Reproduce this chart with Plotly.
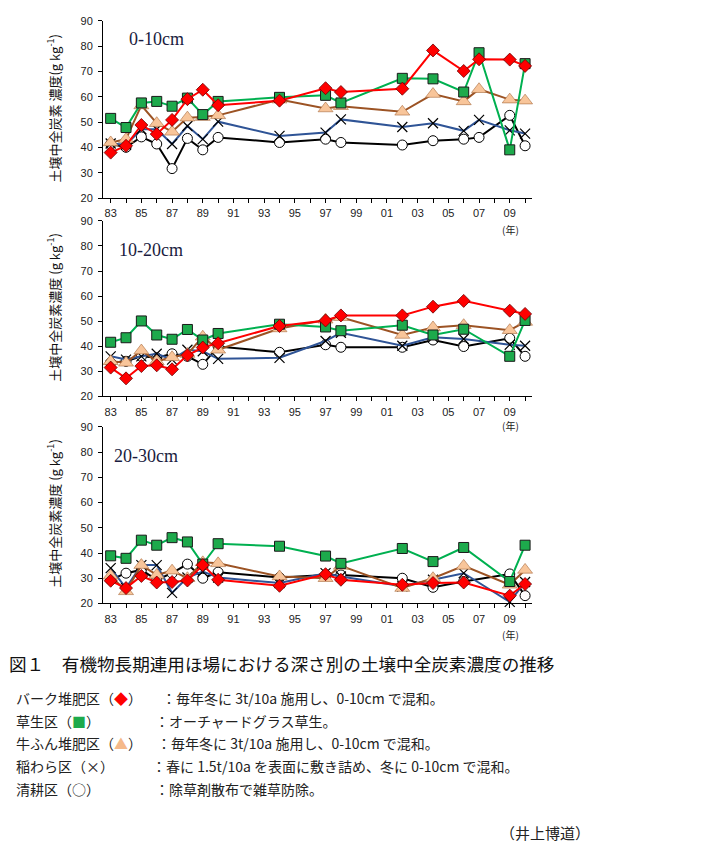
import plotly.graph_objects as go

W, H = 702, 850

# ---------------- data ----------------
years_a = [1983, 1984, 1985, 1986, 1987, 1988, 1989, 1990, 1994, 1997, 1998, 2002, 2004, 2006, 2007, 2009, 2010]
years_b = [1983, 1984, 1985, 1986, 1987, 1988, 1989, 1990, 1994, 1997, 1998, 2002, 2004, 2006, 2009, 2010]

tick_years = [1983, 1985, 1987, 1989, 1991, 1993, 1995, 1997, 1999, 2001, 2003, 2005, 2007, 2009]
tick_labels = ["83", "85", "87", "89", "91", "93", "95", "97", "99", "01", "03", "05", "07", "09"]

# 0-10cm
bark_0_10 = [38, 40.7, 48.9, 45.3, 50.9, 59.1, 62.8, 56.7, 58.5, 63.4, 61.9, 63.2, 78.3, 70.2, 74.8, 74.7, 72.2]
grass_0_10 = [51.5, 47.9, 57.6, 58.2, 56.3, 59.5, 53, 58.2, 59.8, 60.6, 57.6, 67.3, 67.1, 61.9, 77.4, 39.1, 73.1]
cow_0_10 = [42, 43.3, 56.6, 49.6, 46.2, 51.8, 52, 52.7, 58.9, 55.4, 56.3, 54.1, 61.1, 58.2, 63, 58.9, 58.5]
straw_0_10 = [41.6, 41.1, 47.2, 47.2, 41.4, 48.5, 43.3, 50.2, 44.6, 45.9, 51.1, 48.1, 49.6, 46.6, 50.9, 46.8, 45.5]
clean_0_10 = [41.4, 40.1, 44.2, 41.4, 31.7, 43.6, 39.1, 44, 42, 43.3, 42, 41, 42.7, 43.3, 44, 52.7, 40.7]

# 10-20cm
bark_10_20 = [31.5, 27.2, 32.1, 32.4, 30.8, 36.4, 39.5, 41.2, 48.1, 50.3, 52.3, 52.3, 55.8, 58.1, 54.2, 52.9]
grass_10_20 = [41.6, 43.4, 50.1, 44.5, 42.8, 46.7, 42.5, 45.1, 48.8, 47.7, 46.2, 48.4, 44.5, 46.8, 36, 50.3]
cow_10_20 = [34, 33.4, 38.3, 34, 35.6, 36.9, 43.8, 38.6, 47.1, 50.6, 51.6, 44.5, 47.5, 48.4, 46.4, 49.7]
straw_10_20 = [36, 34.7, 36, 37, 34.7, 38.6, 38, 35, 35.4, 42.1, 45.4, 40.2, 43.6, 42.9, 40.6, 40.2]
clean_10_20 = [33.4, 34, 36, 35.4, 37, 36, 32.8, 39.9, 37.6, 40.6, 39.6, 39.6, 42.5, 39.9, 43.2, 36]

# 20-30cm
bark_20_30 = [29, 26.1, 30.9, 28.3, 28.5, 29.1, 35.2, 29.4, 27, 31.6, 29.4, 27.4, 28.1, 28.3, 23.1, 27.7]
grass_20_30 = [38.9, 37.9, 45.1, 43.1, 46.1, 44.4, 35.6, 43.7, 42.7, 38.8, 35.9, 41.8, 36.6, 42.2, 28.7, 43.1]
cow_20_30 = [31, 24.8, 35.2, 31.3, 33, 30, 36.3, 35.9, 30.7, 30, 34.9, 26.1, 30, 34.9, 27.4, 33.3]
straw_20_30 = [34, 26.1, 35.2, 35.2, 24.2, 30.3, 32.6, 30.3, 28.1, 32, 30.7, 26.8, 29.4, 32, 20.6, 28.5]
clean_20_30 = [29.4, 32, 33.3, 29.4, 32, 35.6, 30, 32.4, 30.3, 31.3, 31.3, 30, 26.4, 28.7, 31.7, 23.1]

depth_labels = ["0-10cm", "10-20cm", "20-30cm"]
ytitles = ["土壌中全炭素 濃度(g kg<sup>-1</sup>)",
           "土壌中全炭素濃度 (g kg<sup>-1</sup>)",
           "土壌中全炭素濃度 (g kg<sup>-1</sup>)"]

panels = [
    (years_a, clean_0_10, straw_0_10, cow_0_10, grass_0_10, bark_0_10),
    (years_b, clean_10_20, straw_10_20, cow_10_20, grass_10_20, bark_10_20),
    (years_b, clean_20_30, straw_20_30, cow_20_30, grass_20_30, bark_20_30),
]

# ---------------- styles ----------------
styles = [
    dict(name="清耕区", line=dict(color="#000000", width=2),
         marker=dict(symbol="circle", size=10, color="#FFFFFF", line=dict(color="#000000", width=1))),
    dict(name="稲わら区", line=dict(color="#2F5496", width=2),
         marker=dict(symbol="x-thin", size=10, color="#000000", line=dict(color="#000000", width=1.2))),
    dict(name="牛ふん堆肥区", line=dict(color="#9C5324", width=2),
         marker=dict(symbol="triangle-up", size=13, color="#F8C59A", line=dict(color="#A86A3C", width=0.6))),
    dict(name="草生区", line=dict(color="#00B050", width=2),
         marker=dict(symbol="square", size=10, color="#1DAA4C", line=dict(color="#1A1A1A", width=1))),
    dict(name="バーク堆肥区", line=dict(color="#FF0000", width=2),
         marker=dict(symbol="diamond", size=10, color="#FF0000", line=dict(color="#6B0000", width=0.8))),
]

def px_x(x):
    return x / W

def px_y(y):
    return 1 - y / H

# panel pixel boxes (top, bottom)
boxes = [(15, 195), (218, 396), (427, 606)]
x_left, x_right = 103, 532

fig = go.Figure()

for i, (yrs, *series) in enumerate(panels):
    ax = "" if i == 0 else str(i + 1)
    for st, vals in zip(styles, series):
        fig.add_trace(go.Scatter(
            x=yrs, y=vals, mode="lines+markers", name=st["name"],
            line=st["line"], marker=st["marker"], showlegend=False,
            xaxis="x" + ax, yaxis="y" + ax, cliponaxis=False))

layout = dict(
    width=W, height=H, margin=dict(l=0, r=0, t=0, b=0),
    paper_bgcolor="white", plot_bgcolor="white", showlegend=False,
    font=dict(family="Noto Sans CJK JP", color="#222222"),
)

tickfont = dict(family="Liberation Sans", size=11, color="#222222")
for i, (top, bot) in enumerate(boxes):
    ax = "" if i == 0 else str(i + 1)
    layout["xaxis" + ax] = dict(
        domain=[px_x(x_left), px_x(x_right)], anchor="y" + ax,
        range=[1982.5, 2010.45], tickmode="array", tickvals=tick_years, ticktext=tick_labels,
        ticks="outside", ticklen=4, tickcolor="#000", showline=True, linecolor="#000", linewidth=1,
        showgrid=False, zeroline=False, tickfont=tickfont, ticklabelstandoff=1,
        minor=dict(tickmode="linear", tick0=1983, dtick=1, ticks="outside", ticklen=4, tickcolor="#000", showgrid=False),
    )
    layout["yaxis" + ax] = dict(
        domain=[px_y(bot), px_y(top)], anchor="x" + ax,
        range=[20, 90], dtick=10, tick0=20, ticks="outside", ticklen=4, tickcolor="#000",
        showline=True, linecolor="#000", linewidth=1, showgrid=False, zeroline=False,
        tickfont=tickfont, ticklabelstandoff=3,
    )

fig.update_layout(**layout)

ann = []
# depth labels
depth_pos = [(127, 33), (117, 248), (112, 456)]
for lab, (x, y) in zip(depth_labels, depth_pos):
    ann.append(dict(x=px_x(x), y=px_y(y), xref="paper", yref="paper", text=lab, showarrow=False,
                    xanchor="left", yanchor="middle",
                    font=dict(family="Liberation Serif", size=18, color="#1A1C40")))
# y titles
ycenters = [104, 306, 515]
for t, yc in zip(ytitles, ycenters):
    ann.append(dict(x=px_x(53), y=px_y(yc), xref="paper", yref="paper", text=t, showarrow=False,
                    textangle=-90, xanchor="center", yanchor="middle",
                    font=dict(family="Noto Sans CJK JP", size=13, color="#111111")))
# (年)
for y in [227, 425, 637]:
    ann.append(dict(x=px_x(510), y=px_y(y), xref="paper", yref="paper", text="(年)", showarrow=False,
                    xanchor="center", yanchor="middle",
                    font=dict(family="Noto Sans CJK JP", size=10, color="#222222")))

# caption
ann.append(dict(x=px_x(7), y=px_y(667), xref="paper", yref="paper",
                text="図１　有機物長期連用ほ場における深さ別の土壌中全炭素濃度の推移", showarrow=False,
                xanchor="left", yanchor="middle",
                font=dict(family="Noto Sans CJK JP", size=17.6, color="#111111")))

legend_rows = [
    ("バーク堆肥区（<span style='color:#FF0000'>◆</span>）", 160, "：毎年冬に 3t/10a 施用し、0-10cm で混和。", 702),
    ("草生区（<span style='color:#1DAA4C'>■</span>）", 153, "：オーチャードグラス草生。", 725),
    ("牛ふん堆肥区（<span style='color:#F5B98A'>▲</span>）", 155, "：毎年冬に 3t/10a 施用し、0-10cm で混和。", 748),
    ("稲わら区（×）", 150, "：春に 1.5t/10a を表面に敷き詰め、冬に 0-10cm で混和。", 771),
    ("清耕区（○）", 153, "：除草剤散布で雑草防除。", 794),
]
for left, cx, right, y in legend_rows:
    ann.append(dict(x=px_x(14), y=px_y(y), xref="paper", yref="paper", text=left, showarrow=False,
                    xanchor="left", yanchor="middle",
                    font=dict(family="Noto Sans CJK JP", size=14, color="#222222")))
    ann.append(dict(x=px_x(cx), y=px_y(y), xref="paper", yref="paper", text=right, showarrow=False,
                    xanchor="left", yanchor="middle",
                    font=dict(family="Noto Sans CJK JP", size=14, color="#222222")))

ann.append(dict(x=px_x(592), y=px_y(838), xref="paper", yref="paper", text="（井上博道）", showarrow=False,
                xanchor="right", yanchor="middle",
                font=dict(family="Noto Sans CJK JP", size=15, color="#222222")))

fig.update_layout(annotations=ann)
fig.write_html("out.html", config={"displayModeBar": False},
               post_script="document.body.style.margin='0';document.body.style.padding='0';")
